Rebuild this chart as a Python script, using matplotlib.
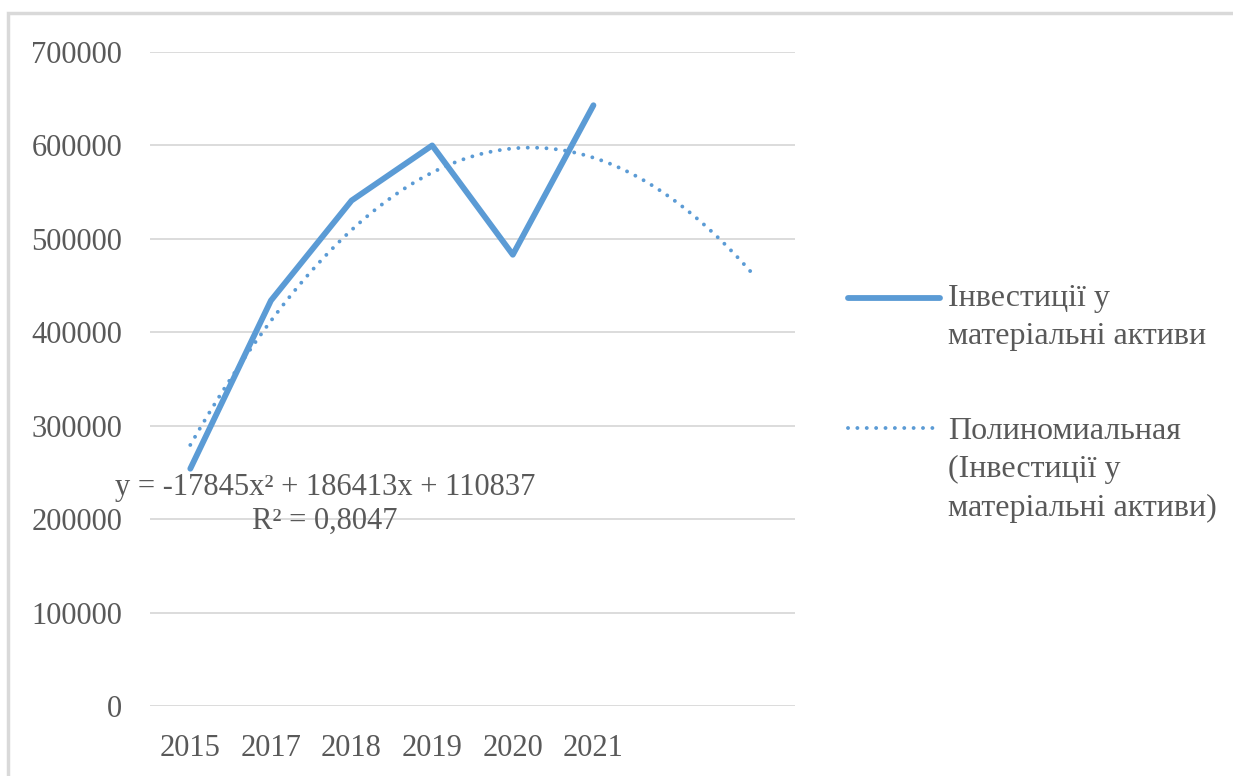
import numpy as np
import matplotlib.pyplot as plt
from matplotlib.patches import Rectangle
from matplotlib.lines import Line2D

plt.rcParams['font.family'] = ['Liberation Serif', 'DejaVu Serif']

# data
years = ['2015', '2017', '2018', '2019', '2020', '2021']
values = [254000, 434000, 541000, 600000, 483000, 643000]
# trendline coefficients as shown on the chart
trend_coef = [-17845, 186413, 110837]
trend_forward = 2

series_label = 'Інвестиції у\nматеріальні активи'
trend_label = 'Полиномиальная\n(Інвестиції у\nматеріальні активи)'
eq_text = 'y = -17845x² + 186413x + 110837'
r2_text = 'R² = 0,8047'

blue = '#5b9bd5'
grey = '#595959'
W, H = 1233, 776

fig = plt.figure(figsize=(W/100, H/100), dpi=100)
ax = fig.add_axes([150/W, 70/H, 645/W, 654/H])

x = np.arange(1, len(years) + 1)
ax.plot(x, values, color=blue, lw=4.2, solid_capstyle='round', zorder=3)

xt = np.linspace(1, len(years) + trend_forward, 300)
yt = np.polyval(trend_coef, xt)
dots = (0, (0.01, 2.4))
ax.plot(xt, yt, color=blue, lw=2.8, linestyle=dots, dash_capstyle='round', zorder=2)

ax.set_xlim(0.5, len(years) + trend_forward + 0.5)
ax.set_ylim(0, 700000)
ax.set_yticks(np.arange(0, 700001, 100000))
ax.set_yticklabels([str(v) for v in range(0, 700001, 100000)])
ax.set_xticks(x)
ax.set_xticklabels(years)
ax.grid(axis='y', color='#d9d9d9', lw=1.3)
ax.set_axisbelow(True)
for s in ax.spines.values():
    s.set_visible(False)
ax.tick_params(length=0, labelsize=22, colors=grey)
ax.tick_params(axis='y', pad=20)
ax.tick_params(axis='x', pad=20)

# trendline equation
fig.text(325/W, 1 - 487/H, eq_text, fontsize=22, color=grey, ha='center', va='center')
fig.text(325/W, 1 - 521/H, r2_text, fontsize=22, color=grey, ha='center', va='center')

# legend, handle aligned with first text line like Excel
fig.add_artist(Line2D([848/W, 940/W], [1 - 298/H] * 2, color=blue, lw=4.2,
                      solid_capstyle='round'))
fig.text(948/W, 1 - 284/H, series_label, fontsize=23, color=grey, ha='left', va='top',
         linespacing=1.42)
fig.add_artist(Line2D([848/W, 940/W], [1 - 428/H] * 2, color=blue, lw=2.8,
                      linestyle=dots, dash_capstyle='round'))
fig.text(948/W, 1 - 417/H, trend_label, fontsize=23, color=grey, ha='left', va='top',
         linespacing=1.42)

fig.patches.append(Rectangle((8/W, -0.1), 2, 1.1 - 13/H, transform=fig.transFigure,
                             fill=False, edgecolor='#d9d9d9', lw=2.5))

fig.savefig('out.png', dpi=100)
